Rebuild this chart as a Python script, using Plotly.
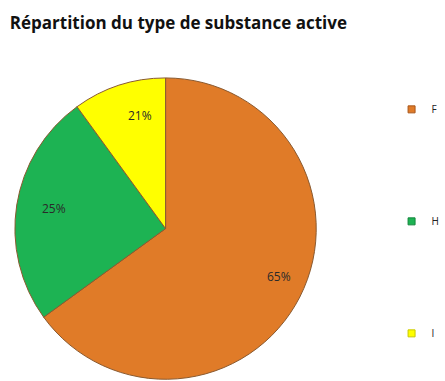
import math
import plotly.graph_objects as go

labels = ["F", "H", "I"]
values = [65, 25, 10]
shown_text = ["65%", "25%", "21%"]
colors = ["#E07B28", "#1DB353", "#FFFF00"]
edge_colors = ["#A8561A", "#13853C", "#C8C800"]

W, H = 445, 381
dom_x = [0.034, 0.722]
dom_y = [0.0, 0.80]

fig = go.Figure()
fig.add_trace(go.Pie(
    labels=labels, values=values, text=shown_text,
    textinfo="none", sort=False, direction="clockwise", rotation=0,
    marker=dict(colors=colors, line=dict(color="#8a5a30", width=1)),
    showlegend=False, hoverinfo="label+text",
    domain=dict(x=dom_x, y=dom_y),
))

# slice labels placed near the rim, derived from the values
r_px = min((dom_x[1] - dom_x[0]) * W, (dom_y[1] - dom_y[0]) * H) / 2
cx = (dom_x[0] + dom_x[1]) / 2
cy = (dom_y[0] + dom_y[1]) / 2
total = sum(values)
cum = 0
for v, t in zip(values, shown_text):
    mid = (cum + v / 2) / total * 2 * math.pi
    cum += v
    fig.add_annotation(
        x=cx + 0.85 * r_px * math.sin(mid) / W,
        y=cy + 0.85 * r_px * math.cos(mid) / H,
        xref="paper", yref="paper", text=t, showarrow=False,
        font=dict(family="Open Sans", size=12, color="#2a2a2a"),
    )

for lab, col, ec in zip(labels, colors, edge_colors):
    fig.add_trace(go.Scatter(
        x=[None], y=[None], mode="markers", name=lab, legendgroup=lab,
        marker=dict(symbol="square", size=7, color=col, line=dict(color=ec, width=1)),
    ))

fig.update_layout(
    width=W, height=H,
    margin=dict(l=0, r=0, t=0, b=0),
    paper_bgcolor="white", plot_bgcolor="white",
    title=dict(text="<b>Répartition du type de substance active</b>",
               x=0.022, xanchor="left", y=0.94, yanchor="middle",
               font=dict(family="Open Sans", size=17, color="#111111")),
    xaxis=dict(visible=False), yaxis=dict(visible=False),
    legend=dict(x=0.894, xanchor="left", y=0.751, yanchor="top",
                tracegroupgap=93, itemwidth=30,
                font=dict(family="Open Sans", size=10, color="#222222"),
                bgcolor="rgba(0,0,0,0)"),
)

fig.write_html("out.html")
